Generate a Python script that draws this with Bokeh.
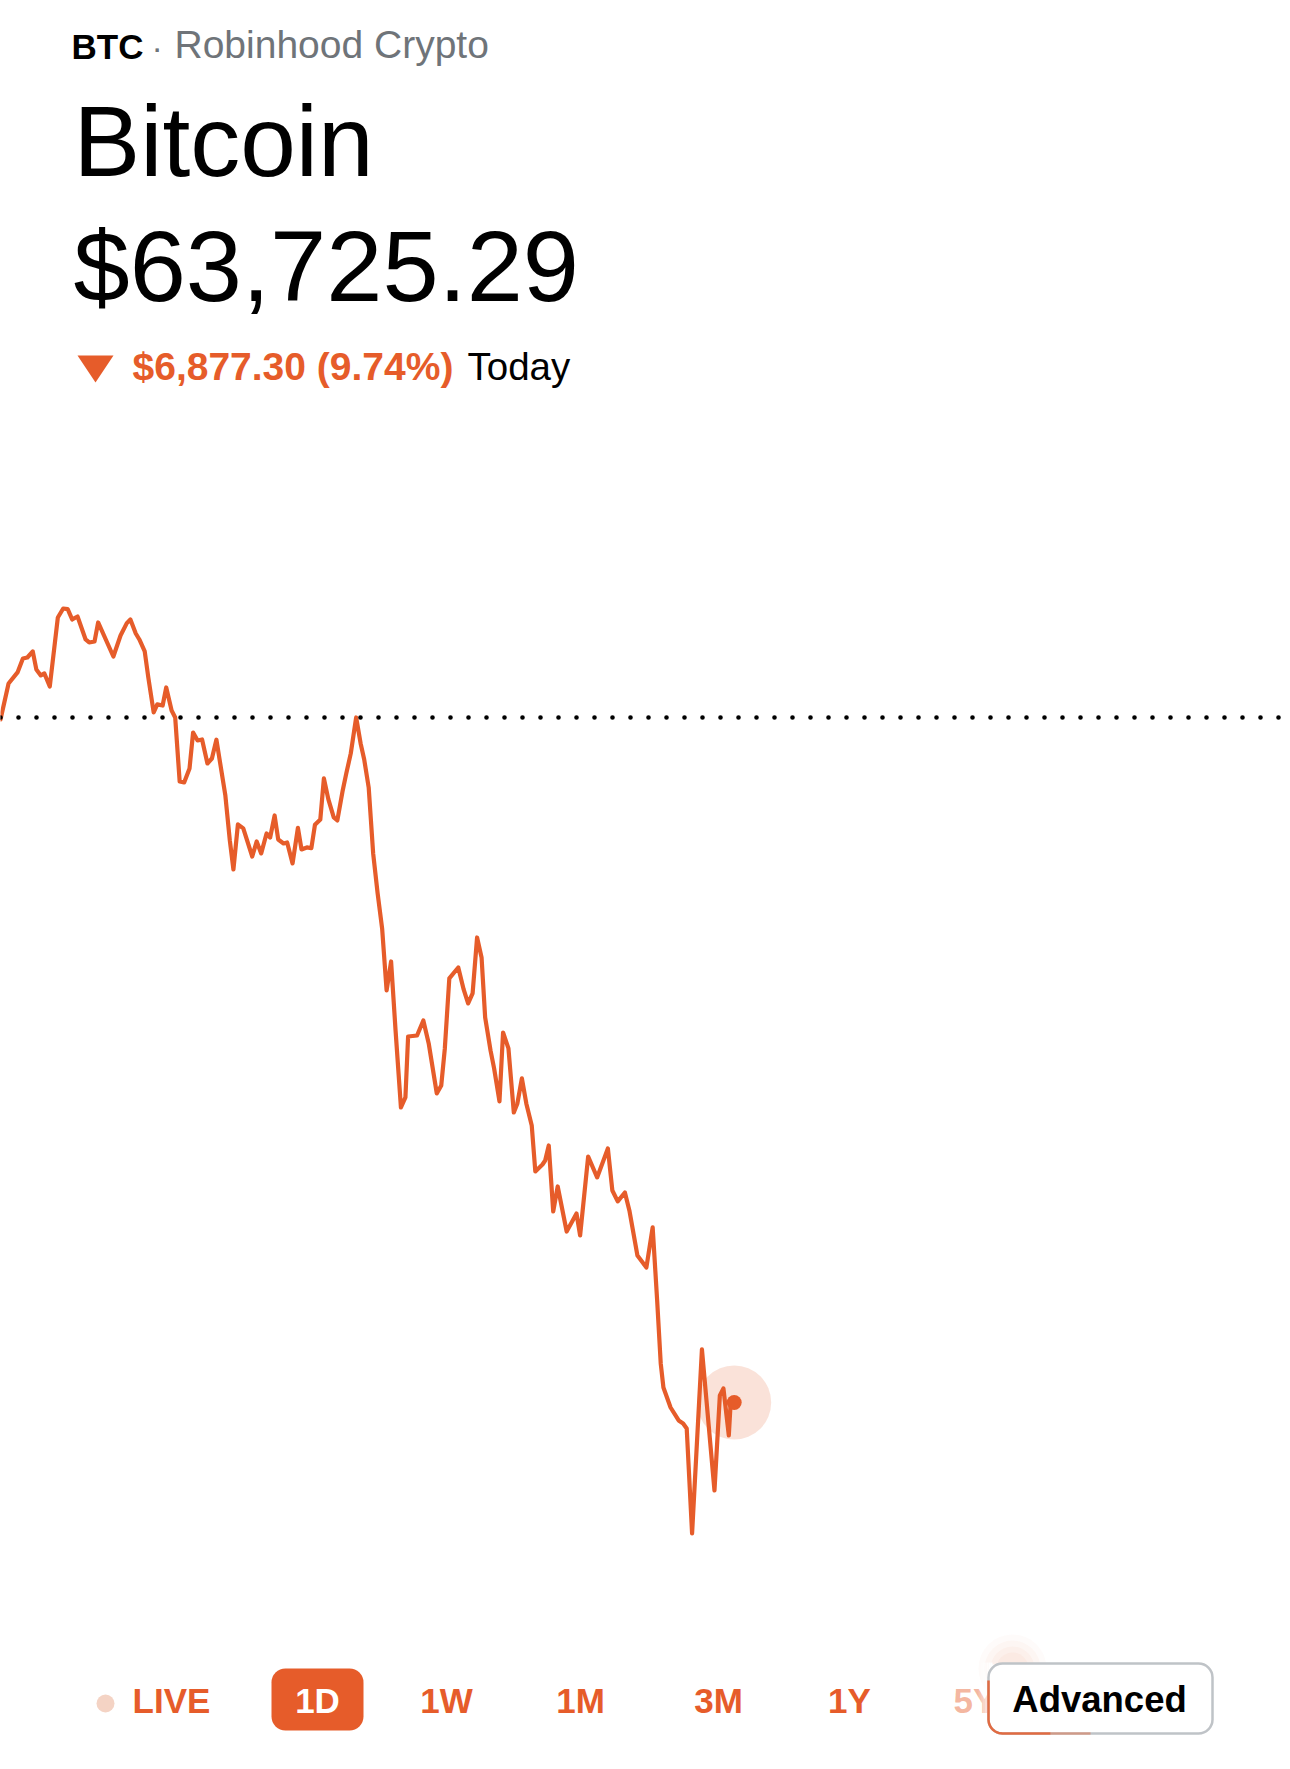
import numpy as np
from bokeh.plotting import figure
from bokeh.models import Range1d, Span
from bokeh.core.properties import value
from bokeh.embed import file_html
from bokeh.resources import INLINE

# ---------------- data ----------------
symbol = "BTC"
exchange = "Robinhood Crypto"
name = "Bitcoin"
current_price = 63725.29
change_abs = 6877.30
change_pct = 9.74
prev_close = current_price + change_abs  # dotted baseline

# minutes since start of the 1D window
times = [0, 9, 19, 25, 30, 36, 40, 45, 49, 55,
         64, 70, 75, 80, 86, 95, 99, 105, 109, 126,
         134, 141, 145, 151, 155, 161, 165, 171, 175, 181,
         185, 191, 195, 200, 205, 211, 215, 220, 225, 231,
         236, 241, 251, 256, 260, 265, 271, 281, 286, 291,
         297, 301, 306, 310, 316, 320, 326, 332, 336, 342,
         347, 351, 357, 361, 366, 372, 376, 382, 386, 391,
         397, 402, 406, 411, 416, 421, 426, 431, 436, 441,
         447, 452, 455, 465, 472, 478, 487, 492, 496, 501,
         511, 517, 522, 527, 532, 537, 541, 547, 551, 557,
         561, 567, 573, 577, 582, 587, 593, 597, 605, 608,
         612, 617, 622, 632, 643, 647, 656, 666, 678, 683,
         689, 697, 702, 711, 721, 728, 733, 737, 740, 748,
         757, 762, 766, 772, 783, 797, 803, 807, 813, 815, 819]

prices = [70583, 70944, 71055, 71195, 71205, 71266, 71085, 71025, 71045, 70914,
          71607, 71697, 71690, 71587, 71617, 71386, 71356, 71366, 71557, 71215,
          71426, 71550, 71587, 71446, 71386, 71266, 71005, 70653, 70734, 70723,
          70904, 70673, 70603, 69960, 69950, 70091, 70452, 70372, 70382, 70141,
          70191, 70380, 69820, 69368, 69077, 69529, 69489, 69207, 69358, 69238,
          69438, 69398, 69619, 69378, 69338, 69348, 69137, 69495, 69278, 69298,
          69290, 69525, 69579, 69991, 69780, 69599, 69569, 69870, 70041, 70242,
          70603, 70342, 70181, 69900, 69238, 68836, 68485, 67862, 68153, 67460,
          66687, 66788, 67400, 67410, 67561, 67330, 66828, 66908, 67280, 67983,
          68093, 67872, 67732, 67832, 68394, 68193, 67591, 67260, 67079, 66748,
          67440, 67280, 66637, 66728, 66979, 66725, 66507, 66045, 66115, 66155,
          66306, 65643, 65894, 65442, 65623, 65402, 66195, 65985, 66276, 65854,
          65744, 65834, 65653, 65201, 65081, 65483, 64750, 64117, 63876, 63675,
          63545, 63515, 63465, 62410, 64258, 62842, 63796, 63866, 63394, 63715, 63725.29]

ranges = ["LIVE", "1D", "1W", "1M", "3M", "1Y", "5Y"]
active_range = "1D"

assert len(times) == len(prices)

# ---------------- styling ----------------
ORANGE = "#e65c2a"
W, H = 1290, 1769

p = figure(width=W, height=H,
           x_range=Range1d(0, 1440),
           y_range=Range1d(60040.51, 77801.27),
           output_backend="svg", toolbar_location=None,
           x_axis_location=None, y_axis_location=None,
           min_border=0, outline_line_color=None,
           background_fill_color="white", border_fill_color="white")
p.grid.visible = False

# pixel coordinate system for page furniture (x from left, y = -distance from top)
p.extra_x_ranges = {"px": Range1d(0, W)}
p.extra_y_ranges = {"px": Range1d(-H, 0)}
PX = dict(x_range_name="px", y_range_name="px")

# ---------------- chart ----------------
p.add_layout(Span(location=prev_close, dimension="width", line_color="black",
                  line_width=4.6, line_dash="0 18", line_dash_offset=0,
                  line_cap="round"))
p.line(times, prices, line_color=ORANGE, line_width=4.2,
       line_join="round", line_cap="round")
p.scatter([times[-1]], [prices[-1]], size=74, fill_color=ORANGE,
          fill_alpha=0.18, line_color=None)
p.scatter([times[-1]], [prices[-1]], size=15, fill_color=ORANGE, line_color=None)

# ---------------- header ----------------
def txt(x, y, s, size, color="black", font="Liberation Sans", style="normal",
        align="left", alpha=1.0):
    # y is the wanted baseline (px from top); compensate renderer's baseline offset
    yy = y - 0.38 * size
    p.text(x=[x], y=[-yy], text=[s], text_font=value(font),
           text_font_size=value(f"{size}px"), text_font_style=style,
           text_color=color, text_alpha=alpha, text_align=align,
           text_baseline="alphabetic", **PX)

txt(71, 59, symbol, 35, style="bold")
txt(151, 59, "·", 34, color="#6f7479")
txt(174, 59, exchange, 39, color="#6f7479")
txt(73, 178, name, 100)
txt(73, 304, f"${current_price:,.2f}", 101)
p.patch([77, 113, 95], [-355, -355, -382], fill_color=ORANGE, line_color=None, **PX)
txt(132, 381, f"${change_abs:,.2f} ({change_pct:.2f}%)", 39, color=ORANGE, style="bold")
txt(467, 381, "Today", 38.5)

# ---------------- range buttons ----------------
BASE = 1713
p.scatter([105], [-1703], size=18, fill_color="#f4d3c4", line_color=None, **PX)
p.quad(left=[271], right=[363], top=[-1668], bottom=[-1730], border_radius=14,
       fill_color=ORANGE, line_color=None, **PX)
centers = {"LIVE": 171, "1D": 317, "1W": 446, "1M": 580, "3M": 718, "1Y": 849}
for r in ranges:
    if r in centers:
        col = "white" if r == active_range else ORANGE
        txt(centers[r], BASE, r, 35, color=col, style="bold", align="center")
txt(953, BASE, "5Y", 35, color=ORANGE, style="bold", alpha=0.45)

# soft glow at the top-left of the Advanced button
for rr, a in [(34, 0.025), (28, 0.03), (22, 0.035), (16, 0.04)]:
    p.scatter([1012], [-1668], size=2 * rr, fill_color=ORANGE, fill_alpha=a,
              line_color=None, **PX)
# Advanced button with faded left edge
for i, a in enumerate(np.linspace(0.0, 1.0, 8)):
    p.quad(left=[976 + i * 2], right=[978 + i * 2], top=[-1662], bottom=[-1742],
           fill_color="white", fill_alpha=a, line_color=None, **PX)
p.quad(left=[990], right=[1215], top=[-1664], bottom=[-1742],
       fill_color="white", line_color=None, **PX)
p.quad(left=[988], right=[1212], top=[-1663], bottom=[-1733], border_radius=14,
       fill_color="white", line_color="#bfc3c7", line_width=2.5, **PX)
# orange tint on the lower-left of the border
r0 = 14
th = np.linspace(np.pi, 1.5 * np.pi, 12)
cx, cy = 988 + r0, 1733 - r0
arc_x = list(cx + r0 * np.cos(th))
arc_y = list(cy - r0 * np.sin(th))
bx = [988] + arc_x + [1050]
by = [1680] + arc_y + [1733]
p.line(bx, [-v for v in by], line_color=ORANGE, line_width=2.5, line_alpha=0.85, **PX)
p.line([1050, 1090], [-1733, -1733], line_color=ORANGE, line_width=2.5, line_alpha=0.4, **PX)
txt(1099, BASE, "Advanced", 36.5, style="bold", align="center")

open("out.html", "w").write(file_html(p, INLINE))
